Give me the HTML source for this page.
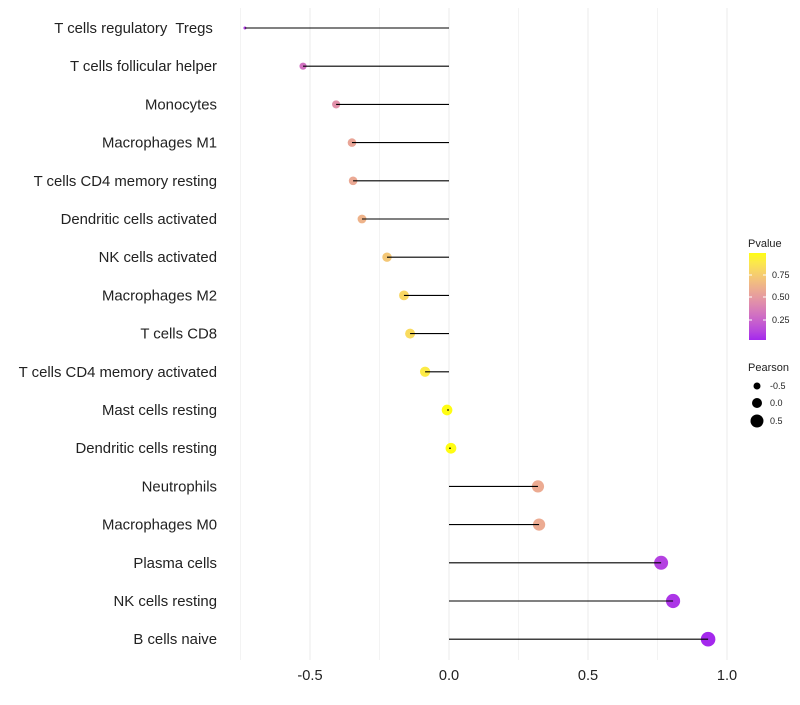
<!DOCTYPE html>
<html><head><meta charset="utf-8"><style>
body{margin:0;background:#fff}
svg{font-family:"Liberation Sans",sans-serif}
text{white-space:pre}
</style></head><body>
<svg id="c" width="800" height="700"></svg>
<script>
const categories=["T cells regulatory  Tregs ","T cells follicular helper","Monocytes","Macrophages M1","T cells CD4 memory resting","Dendritic cells activated","NK cells activated","Macrophages M2","T cells CD8","T cells CD4 memory activated","Mast cells resting","Dendritic cells resting","Neutrophils","Macrophages M0","Plasma cells","NK cells resting","B cells naive"];
const pearson=[-0.734,-0.525,-0.406,-0.349,-0.345,-0.313,-0.223,-0.162,-0.140,-0.086,-0.007,0.007,0.320,0.324,0.763,0.806,0.932];
const pvalue=[0.08,0.3,0.45,0.55,0.57,0.62,0.72,0.8,0.82,0.9,0.99,0.99,0.58,0.58,0.1,0.06,0.02];
const xTicks=[-0.5,0,0.5,1.0];
const xTickLabels=["-0.5","0.0","0.5","1.0"];
const xMinor=[-0.75,-0.25,0.25,0.75];
const NS="http://www.w3.org/2000/svg";
const svg=document.getElementById('c');
const X=v=>449+v*278;
const Y=i=>28+i*38.2;
const R=v=>1.5+5.8*Math.sqrt(Math.max(0,v+0.734)/1.666);
function toLin(c){c/=255;return c<=0.04045?c/12.92:Math.pow((c+0.055)/1.055,2.4);}
function fromLin(c){c=c<=0.0031308?12.92*c:1.055*Math.pow(c,1/2.4)-0.055;return Math.max(0,Math.min(255,Math.round(c*255)));}
function rgb2lab(r,g,b){r=toLin(r);g=toLin(g);b=toLin(b);
let x=(r*0.4124+g*0.3576+b*0.1805)/0.95047,y=r*0.2126+g*0.7152+b*0.0722,z=(r*0.0193+g*0.1192+b*0.9505)/1.08883;
const f=t=>t>0.008856?Math.cbrt(t):7.787*t+16/116;x=f(x);y=f(y);z=f(z);return[116*y-16,500*(x-y),200*(y-z)];}
function lab2rgb(L,a,bb){let y=(L+16)/116,x=a/500+y,z=y-bb/200;const fi=t=>t*t*t>0.008856?t*t*t:(t-16/116)/7.787;
x=fi(x)*0.95047;y=fi(y);z=fi(z)*1.08883;
const r=x*3.2406+y*-1.5372+z*-0.4986,g=x*-0.9689+y*1.8758+z*0.0415,b=x*0.0557+y*-0.2040+z*1.0570;return[fromLin(r),fromLin(g),fromLin(b)];}
const LA=rgb2lab(160,32,240),LB=rgb2lab(255,255,0);
function col(p){const l=LA.map((c,k)=>c+(LB[k]-c)*p);return `rgb(${lab2rgb(...l).join(',')})`;}
function el(t,at,parent){const e=document.createElementNS(NS,t);for(const k in at)e.setAttribute(k,at[k]);(parent||svg).appendChild(e);return e;}
xMinor.forEach(v=>{const l=el('line',{x1:X(v),x2:X(v),y1:8,y2:660,stroke:'#f3f3f3','stroke-width':1});

});
xTicks.forEach((v,i)=>{const l=el('line',{x1:X(v),x2:X(v),y1:8,y2:660,stroke:'#ebebeb','stroke-width':1});


const t=el('text',{x:X(v),y:680,'text-anchor':'middle','font-size':14.6,fill:'#222'});t.textContent=xTickLabels[i];

});
categories.forEach((c,i)=>{
const t=el('text',{x:217,y:Y(i)+5,'text-anchor':'end','font-size':14.9,fill:'#222'});t.textContent=c;


const d=el('circle',{cx:X(pearson[i]),cy:Y(i),r:R(pearson[i]),fill:col(pvalue[i])});


const l=el('line',{x1:X(0),x2:X(pearson[i]),y1:Y(i),y2:Y(i),stroke:'#000','stroke-width':1.1});


});
const g=el('g',{});


const defs=el('defs',{});
const lg=el('linearGradient',{id:'gr',x1:0,y1:1,x2:0,y2:0},defs);
for(let k=0;k<=10;k++){const p=0.02+0.97*k/10;el('stop',{offset:k/10,'stop-color':col(p)},lg);}
let t=el('text',{x:748,y:247,'font-size':11,fill:'#222'},g);t.textContent='Pvalue';
el('rect',{x:749,y:253,width:17,height:87,fill:'url(#gr)'},g);
[[0.75,275],[0.5,297],[0.25,320]].forEach(([v,y])=>{
el('line',{x1:749,x2:752,y1:y,y2:y,stroke:'#fff'},g);el('line',{x1:763,x2:766,y1:y,y2:y,stroke:'#fff'},g);
const tt=el('text',{x:772,y:y+3,'font-size':9,fill:'#222'},g);tt.textContent=v.toFixed(2);});
t=el('text',{x:748,y:371,'font-size':11,fill:'#222'},g);t.textContent='Pearson';
[[-0.5,386,3.5],[0,403,5],[0.5,421,6.5]].forEach(([v,y,r])=>{
el('circle',{cx:757,cy:y,r:r,fill:'#000'},g);
const tt=el('text',{x:770,y:y+3,'font-size':9,fill:'#222'},g);tt.textContent=v.toFixed(1);});
</script>
</body></html>
